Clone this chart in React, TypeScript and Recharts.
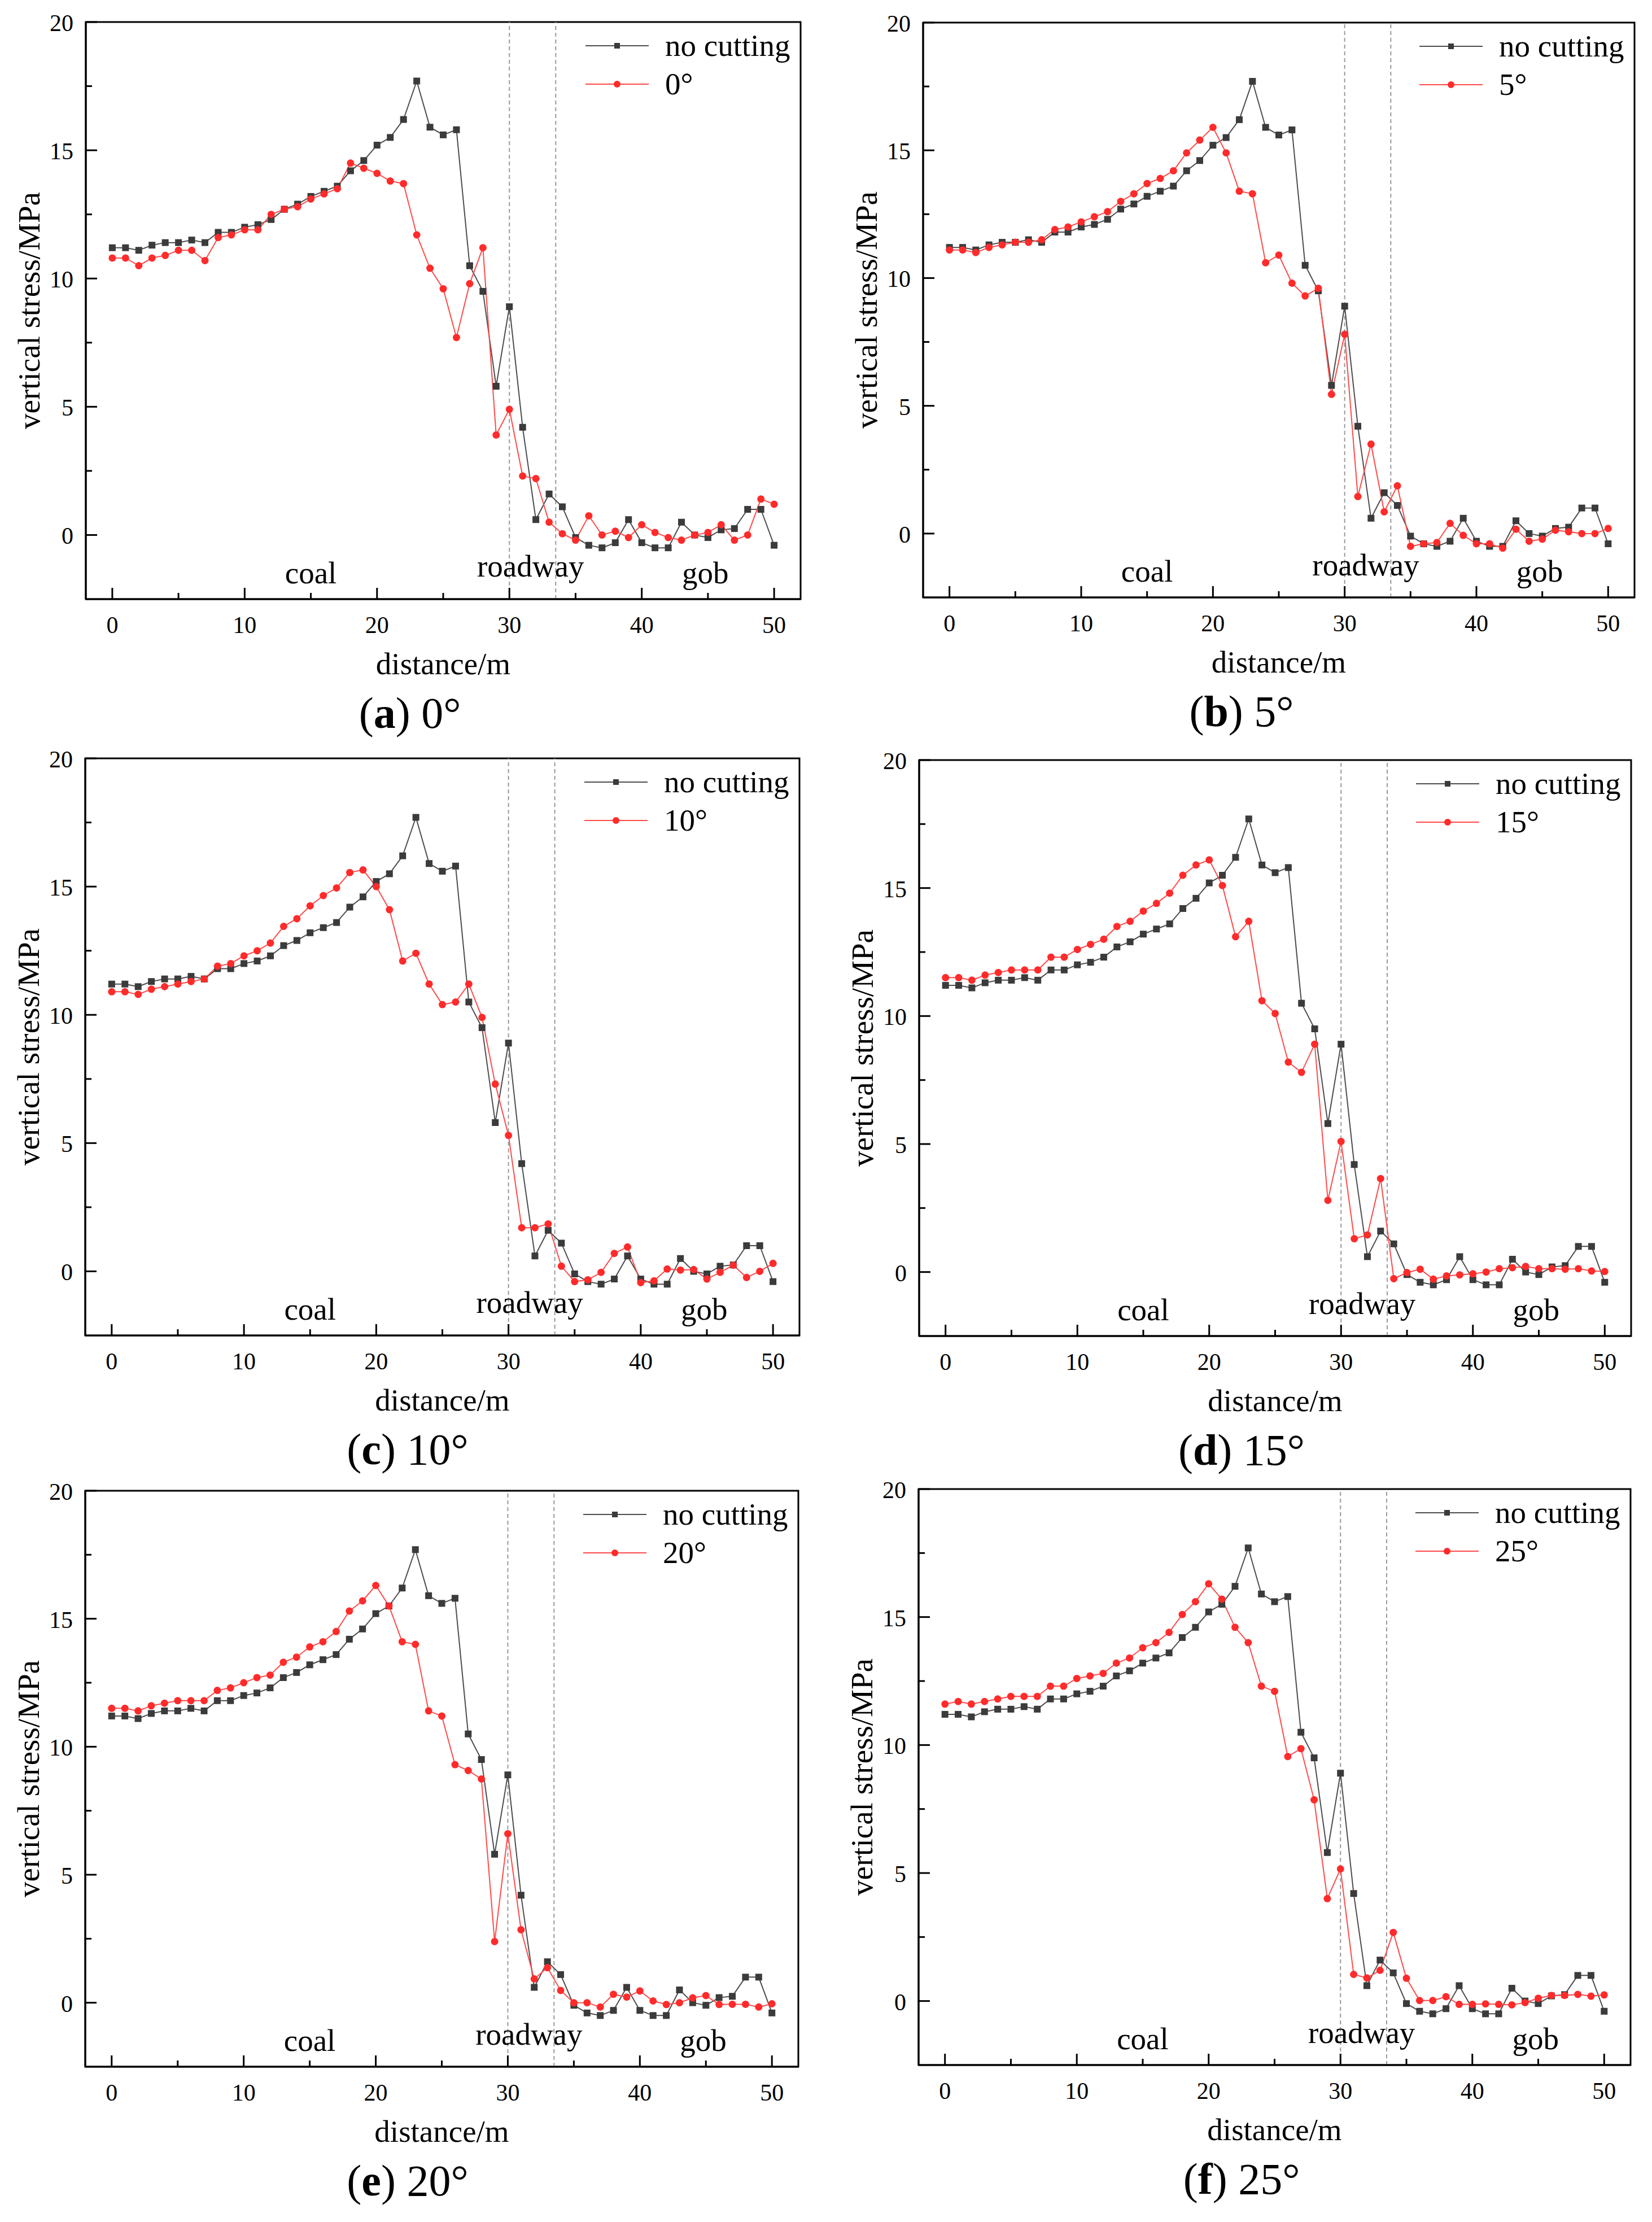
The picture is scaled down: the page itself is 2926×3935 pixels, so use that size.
import React from "react";
import {
  LineChart,
  Line,
  XAxis,
  YAxis,
  ReferenceLine,
  ReferenceDot,
  ReferenceArea,
  Legend,
  Label,
} from "recharts";

// distance along the section, m
const DISTANCE = [
  0, 1, 2, 3, 4, 5, 6, 7, 8, 9, 10, 11, 12, 13, 14, 15, 16, 17, 18, 19, 20,
  21, 22, 23, 24, 25, 26, 27, 28, 29, 30, 31, 32, 33, 34, 35, 36, 37, 38, 39,
  40, 41, 42, 43, 44, 45, 46, 47, 48, 49, 50,
];

// vertical stress, MPa
const NO_CUTTING = [
  11.2, 11.2, 11.1, 11.3, 11.4, 11.4, 11.5, 11.4, 11.8, 11.8,
  12.0, 12.1, 12.3, 12.7, 12.9, 13.2, 13.4, 13.6, 14.2, 14.6,
  15.2, 15.5, 16.2, 17.7, 15.9, 15.6, 15.8, 10.5, 9.5, 5.8,
  8.9, 4.2, 0.6, 1.6, 1.1, -0.1, -0.4, -0.5, -0.3, 0.6,
  -0.3, -0.5, -0.5, 0.5, 0.0, -0.1, 0.2, 0.25, 1.0, 1.0, -0.4,
];
const CUT_0 = [
  10.8, 10.8, 10.5, 10.8, 10.9, 11.1, 11.1, 10.7, 11.6, 11.7,
  11.9, 11.9, 12.5, 12.7, 12.8, 13.1, 13.3, 13.5, 14.5, 14.3,
  14.1, 13.8, 13.7, 11.7, 10.4, 9.6, 7.7, 9.8, 11.2, 3.9,
  4.9, 2.3, 2.2, 0.5, 0.05, -0.2, 0.75, 0.0, 0.15, -0.1,
  0.4, 0.1, -0.1, -0.2, 0.0, 0.1, 0.4, -0.2, 0.0, 1.4, 1.2,
];
const CUT_5 = [
  11.1, 11.1, 11.0, 11.2, 11.3, 11.4, 11.4, 11.5, 11.9, 12.0,
  12.2, 12.4, 12.6, 13.0, 13.3, 13.7, 13.9, 14.2, 14.9, 15.4,
  15.9, 14.9, 13.4, 13.3, 10.6, 10.9, 9.8, 9.3, 9.6, 5.45,
  7.8, 1.45, 3.5, 0.85, 1.87, -0.5, -0.4, -0.35, 0.4, -0.07,
  -0.4, -0.4, -0.57, 0.17, -0.3, -0.22, 0.13, 0.07, 0.0, 0.0, 0.2,
];
const CUT_10 = [
  10.9, 10.9, 10.8, 11.0, 11.1, 11.2, 11.3, 11.4, 11.9, 12.0,
  12.3, 12.5, 12.8, 13.45, 13.75, 14.25, 14.65, 14.95, 15.55, 15.65,
  15.0, 14.1, 12.1, 12.4, 11.2, 10.4, 10.5, 11.2, 9.9, 7.3,
  5.3, 1.7, 1.7, 1.85, 0.2, -0.4, -0.33, -0.04, 0.7, 0.95,
  -0.44, -0.37, 0.09, 0.05, 0.07, -0.3, -0.04, 0.24, -0.24, 0.0, 0.31,
];
const CUT_15 = [
  11.5, 11.5, 11.4, 11.6, 11.7, 11.8, 11.8, 11.8, 12.3, 12.3,
  12.6, 12.8, 13.0, 13.5, 13.7, 14.1, 14.4, 14.8, 15.5, 15.9,
  16.1, 15.1, 13.1, 13.7, 10.6, 10.1, 8.2, 7.8, 8.9, 2.8,
  5.1, 1.3, 1.45, 3.65, -0.26, -0.02, 0.11, -0.28, -0.15, -0.11,
  -0.07, 0.0, 0.13, 0.17, 0.22, 0.13, 0.13, 0.11, 0.13, 0.04, 0.02,
];
const CUT_20 = [
  11.5, 11.5, 11.4, 11.6, 11.7, 11.8, 11.8, 11.8, 12.2, 12.3,
  12.5, 12.7, 12.8, 13.3, 13.5, 13.9, 14.1, 14.5, 15.3, 15.7,
  16.3, 15.5, 14.1, 14.0, 11.4, 11.2, 9.3, 9.07, 8.74, 2.39,
  6.6, 2.85, 0.93, 1.37, 0.48, 0.0, 0.0, -0.17, 0.33, 0.22,
  0.46, 0.07, -0.07, 0.0, 0.19, 0.28, -0.07, -0.06, -0.06, -0.17, -0.04,
];
const CUT_25 = [
  11.6, 11.7, 11.6, 11.7, 11.8, 11.9, 11.9, 11.9, 12.3, 12.3,
  12.6, 12.7, 12.8, 13.2, 13.4, 13.8, 14.0, 14.4, 15.1, 15.6,
  16.3, 15.7, 14.6, 14.0, 12.3, 12.1, 9.55, 9.86, 7.86, 4.0,
  5.16, 1.04, 0.9, 1.2, 2.68, 0.89, 0.02, 0.02, 0.17, -0.13,
  -0.13, -0.11, -0.13, -0.15, -0.06, 0.11, 0.22, 0.22, 0.26, 0.19, 0.24,
];

const CUT_SERIES = [CUT_0, CUT_5, CUT_10, CUT_15, CUT_20, CUT_25];
const ANGLES = ["0°", "5°", "10°", "15°", "20°", "25°"];
const LETTERS = ["a", "b", "c", "d", "e", "f"];

const X_TICKS = [0, 5, 10, 15, 20, 25, 30, 35, 40, 45, 50];
const Y_TICKS = [0, 2.5, 5, 7.5, 10, 12.5, 15, 17.5, 20];
const X_DOMAIN = [-2, 52];
const Y_DOMAIN = [-2.5, 20];
const BOUNDARIES = [30, 33.5];

const REGION_NAMES = ["coal", "roadway", "gob"];
const REGION_X = [15, 31.6, 44.8];
const REGION_Y = [-1.45, -1.2, -1.45];

const FONT = "'Liberation Serif', 'Times New Roman', serif";
const W = 1463;
const H = 1310;

// chart box offsets and plot rectangle (inside the box) for each panel
const LAYOUT = [
  { x: 0, y: 0, pl: 152, pt: 39, pr: 1418, pb: 1061, cx: 726 },
  { x: 1463, y: 0, pl: 172, pt: 40, pr: 1432, pb: 1058, cx: 736 },
  { x: 0, y: 1300, pl: 151, pt: 43, pr: 1416, pb: 1065, cx: 722 },
  { x: 1463, y: 1300, pl: 165, pt: 46, pr: 1426, pb: 1066, cx: 736 },
  { x: 0, y: 2600, pl: 151, pt: 40, pr: 1414, pb: 1060, cx: 722 },
  { x: 1463, y: 2600, pl: 164, pt: 37, pr: 1425, pb: 1057, cx: 736 },
];

const XTick = (p: any) => {
  const v = p.payload.value;
  const major = v % 10 === 0;
  return (
    <g>
      <line x1={p.x} x2={p.x} y1={p.y} y2={p.y - (major ? 20 : 11)} stroke="#000" strokeWidth={3} />
      {major && (
        <text
          x={p.x}
          y={p.y + 46}
          textAnchor="middle"
          dominantBaseline="central"
          fontSize={42}
          fontFamily={FONT}
          fill="#000"
        >
          {v}
        </text>
      )}
    </g>
  );
};

const YTick = (p: any) => {
  const v = p.payload.value;
  const major = v % 5 === 0;
  return (
    <g>
      <line x1={p.x} x2={p.x + (major ? 20 : 11)} y1={p.y} y2={p.y} stroke="#000" strokeWidth={3} />
      {major && (
        <text
          x={p.x - 22}
          y={p.y + 2}
          textAnchor="end"
          dominantBaseline="central"
          fontSize={42}
          fontFamily={FONT}
          fill="#000"
        >
          {v}
        </text>
      )}
    </g>
  );
};

const squareDot = (p: any) => (
  <rect key={`sq-${p.index}`} x={p.cx - 6} y={p.cy - 6} width={12} height={12} fill="#3b3b3b" />
);

const legendContent = (props: any) => {
  // keep "no cutting" first, like the reference
  const items = [...(props.payload || [])].sort(
    (a: any, b: any) => (a.dataKey === "base" ? 0 : 1) - (b.dataKey === "base" ? 0 : 1)
  );
  return (
    <div style={{ fontFamily: FONT }}>
      {items.map((entry: any) => (
        <div key={entry.dataKey} style={{ display: "flex", alignItems: "center", height: 68 }}>
          <svg width={112} height={20}>
            <line x1={0} x2={112} y1={10} y2={10} stroke={entry.color} strokeWidth={2} />
            {entry.dataKey === "base" ? (
              <rect x={51} y={5} width={10} height={10} fill="#3b3b3b" />
            ) : (
              <circle cx={56} cy={10} r={6} fill="#ff2b2b" />
            )}
          </svg>
          <span style={{ marginLeft: 29, fontSize: 55, lineHeight: "68px", color: "#000" }}>
            {entry.value}
          </span>
        </div>
      ))}
    </div>
  );
};

function Panel({ idx }: { idx: number }) {
  const L = LAYOUT[idx];
  const cut = CUT_SERIES[idx];
  const rows = DISTANCE.map((d, i) => ({ d, base: NO_CUTTING[i], cut: cut[i] }));
  const midY = (L.pt + L.pb) / 2;
  const titleX = L.pl - 101;

  return (
    <div style={{ position: "absolute", left: L.x, top: L.y, width: W, height: H }}>
      <LineChart
        width={W}
        height={H}
        data={rows}
        margin={{ top: L.pt, right: W - L.pr, left: 0, bottom: 0 }}
      >
        <XAxis
          type="number"
          dataKey="d"
          domain={X_DOMAIN}
          ticks={X_TICKS}
          interval={0}
          allowDataOverflow
          height={H - L.pb}
          tickSize={0}
          tickMargin={0}
          tickLine={false}
          tick={XTick}
          axisLine={{ stroke: "#000", strokeWidth: 3 }}
        >
          <Label
            content={() => (
              <g fontFamily={FONT}>
                <text
                  x={(L.pl + L.pr) / 2}
                  y={L.pb + 114}
                  textAnchor="middle"
                  dominantBaseline="central"
                  fontSize={55}
                  fill="#000"
                >
                  distance/m
                </text>
                <text x={L.cx} y={L.pb + 201} textAnchor="middle" dominantBaseline="central" fontSize={78} fill="#000">
                  <tspan>(</tspan>
                  <tspan fontWeight="bold">{LETTERS[idx]}</tspan>
                  <tspan>) {ANGLES[idx]}</tspan>
                </text>
              </g>
            )}
          />
        </XAxis>
        <YAxis
          type="number"
          domain={Y_DOMAIN}
          ticks={Y_TICKS}
          interval={0}
          allowDataOverflow
          width={L.pl}
          tickSize={0}
          tickMargin={0}
          tickLine={false}
          tick={YTick}
          axisLine={{ stroke: "#000", strokeWidth: 3 }}
        >
          <Label
            content={() => (
              <text
                x={titleX}
                y={midY}
                transform={`rotate(-90 ${titleX} ${midY})`}
                textAnchor="middle"
                dominantBaseline="central"
                fontSize={55}
                fontFamily={FONT}
                fill="#000"
              >
                vertical stress/MPa
              </text>
            )}
          />
        </YAxis>
        <ReferenceArea
          x1={X_DOMAIN[0]}
          x2={X_DOMAIN[1]}
          y1={Y_DOMAIN[0]}
          y2={Y_DOMAIN[1]}
          fill="none"
          fillOpacity={0}
          stroke="#000"
          strokeWidth={3}
          ifOverflow="visible"
        />
        {BOUNDARIES.map((b) => (
          <ReferenceLine key={b} x={b} stroke="#9a9a9a" strokeWidth={2} strokeDasharray="7 5" />
        ))}
        {REGION_NAMES.map((name, i) => (
          <ReferenceDot
            key={name}
            x={REGION_X[i]}
            y={REGION_Y[i]}
            r={0}
            fill="none"
            stroke="none"
            label={{ value: name, position: "center", fontSize: 55, fontFamily: FONT, fill: "#000" }}
          />
        ))}
        <Legend
          layout="vertical"
          align="center"
          verticalAlign="middle"
          content={legendContent}
          wrapperStyle={{ left: L.pr - 381, top: L.pt + 8, width: 400, height: 136 }}
        />
        <Line
          dataKey="base"
          name="no cutting"
          stroke="#4d4d4d"
          strokeWidth={2}
          dot={squareDot}
          activeDot={false}
          isAnimationActive={false}
        />
        <Line
          dataKey="cut"
          name={ANGLES[idx]}
          stroke="#ff4a4a"
          strokeWidth={2}
          dot={{ r: 6.5, fill: "#ff2b2b", stroke: "none" }}
          activeDot={false}
          isAnimationActive={false}
        />
      </LineChart>
    </div>
  );
}

export default function App() {
  return (
    <div
      style={{
        position: "absolute",
        left: 0,
        top: 0,
        width: 2926,
        height: 3935,
        background: "#fff",
        fontFamily: FONT,
      }}
    >
      {LAYOUT.map((_, i) => (
        <Panel key={i} idx={i} />
      ))}
    </div>
  );
}
